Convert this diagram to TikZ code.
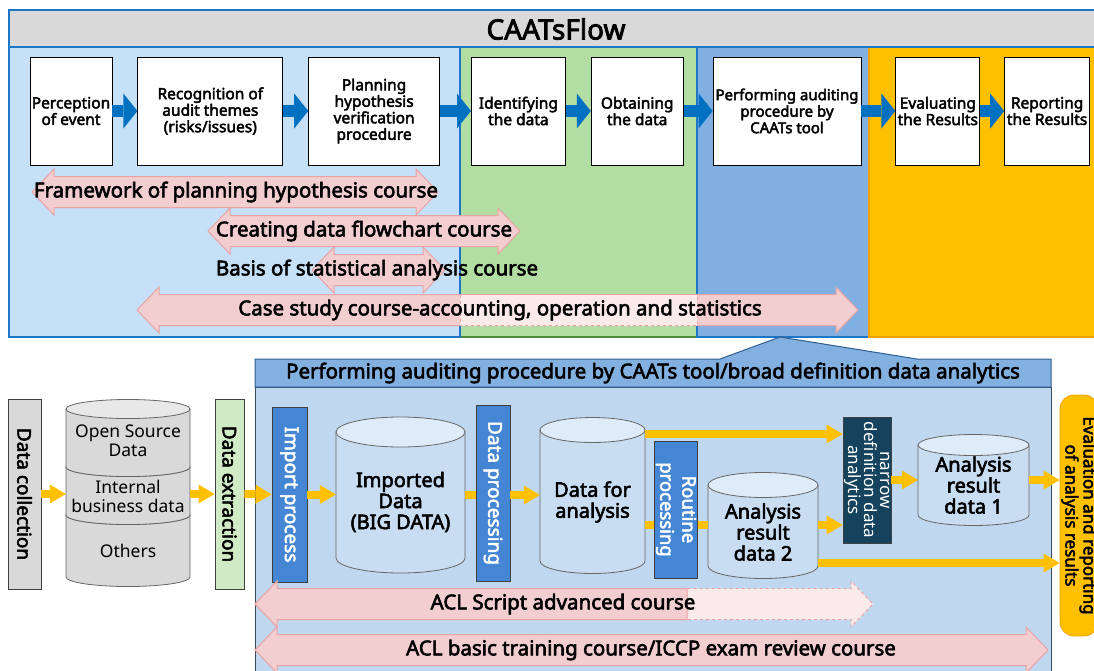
\documentclass[tikz,border=0pt]{standalone}
\usepackage{fontspec}
\setmainfont{Noto Sans}[AutoFakeBold=2.8]
\usetikzlibrary{positioning,arrows.meta}

\definecolor{phaseplan}{HTML}{C6E0F8}
\definecolor{phasegreen}{HTML}{B3DEA3}
\definecolor{phasegreenedge}{HTML}{4E8A3A}
\definecolor{phaseblue}{HTML}{80B0E2}
\definecolor{phaseorange}{HTML}{FFC000}
\definecolor{orangeedge}{HTML}{F5A000}
\definecolor{headgray}{HTML}{D9D9D9}
\definecolor{frameblue}{HTML}{1F75C6}
\definecolor{flowblue}{HTML}{0070C0}
\definecolor{coursepink}{HTML}{F2CED0}
\definecolor{courseedge}{HTML}{E9A3A5}
\definecolor{courselight}{HTML}{FBEAEA}
\definecolor{lowpanel}{HTML}{BFD7EF}
\definecolor{lowedge}{HTML}{3A4A5A}
\definecolor{lowhead}{HTML}{82B0E0}
\definecolor{lowheadedge}{HTML}{2F5F8F}
\definecolor{procblue}{HTML}{4486D4}
\definecolor{narrowteal}{HTML}{15435E}
\definecolor{extractgreen}{HTML}{D0EBC6}
\definecolor{feedyellow}{HTML}{FFC000}
\definecolor{stackbody}{HTML}{D9D9D9}
\definecolor{stacktop}{HTML}{E8E8E8}
\definecolor{databody}{HTML}{C8DCF2}
\definecolor{datatop}{HTML}{DEEBF8}

% block arrow with two heads: [style] left x, right x, mid y
\newcommand{\coursearrow}[4][]{%
  \filldraw[coursebar,#1] (#2,#4) -- ++(22,-23) -- ++(0,7.5) -- ({#3-22},{#4-15.5}) -- ++(0,-7.5)
    -- (#3,#4) -- ++(-22,23) -- ++(0,-7.5) -- ({#2+22},{#4+15.5}) -- ++(0,7.5) -- cycle;}
% cylinder: left x, right x, top y, bottom y, y radius, colour prefix
\newcommand{\drum}[6]{%
  \filldraw[fill=#6body, draw=black!60, line width=0.8pt] (#1,#3) -- (#1,#4)
    arc[start angle=180, end angle=0, x radius={(#2-#1)/2}, y radius=#5] -- (#2,#3) -- cycle;
  \filldraw[fill=#6top, draw=black!60, line width=0.8pt] ({(#1+#2)/2},#3) ellipse[x radius={(#2-#1)/2}, y radius=#5];}

\begin{document}
\begin{tikzpicture}[
  x=1pt, y=-1pt,
  node distance=25pt,
  stepbox/.style={draw, fill=white, line width=0.8pt, minimum height=108pt, align=center, inner sep=0.5pt, font=\fontsize{15.5}{16.5}\selectfont\bfseries},
  coursetext/.style={font=\fontsize{20.5}{22}\selectfont\bfseries},
  coursebar/.style={fill=coursepink, draw=courseedge, line width=1pt},
  sidebox/.style={draw=black!75, line width=0.8pt, rotate=-90, align=center, inner sep=0.5pt, font=\fontsize{19}{21}\selectfont\bfseries},
  procbox/.style={sidebox, fill=procblue, text=white},
  drumtext/.style={align=center, inner sep=0pt, font=\fontsize{20}{21}\selectfont\bfseries},
  stacktext/.style={align=center, inner sep=0pt, font=\fontsize{17.5}{19}\selectfont},
  bluearrow/.style={line width=12pt, draw=flowblue, -{Triangle[width=35pt,length=14pt,line width=0pt]}},
  yline/.style={line width=8pt, draw=feedyellow},
  yarrow/.style={yline, -{Triangle[width=19pt,length=16pt,line width=0pt]}}
]
\useasboundingbox (0,0) rectangle (1094,670);
\fill[white] (0,0) rectangle (1094,670);
\clip (0,0) rectangle (1094,670);

% Phase panels of the flow
\filldraw[fill=phasegreen, draw=phasegreenedge, line width=1.5pt] (460,47) rectangle (697,337);
\filldraw[fill=phaseplan, draw=frameblue, line width=1.5pt] (9,47) rectangle (460,337);
\filldraw[fill=phaseblue, draw=frameblue, line width=1.5pt] (697,47) rectangle (869,337);
\filldraw[fill=phaseorange, draw=orangeedge, line width=1.5pt] (869,47) rectangle (1110,337);
\filldraw[fill=headgray, draw=frameblue, line width=1.5pt] (9,10) rectangle (1110,47);
\node[font=\fontsize{28}{30}\selectfont\bfseries] (title) at (556,29) {CAATsFlow};

% Steps
\node[stepbox, minimum width=82pt] (percept) at (71,111) {Perception\\of event};
\node[stepbox, minimum width=145pt, right=of percept] (recog) {Recognition of\\audit themes\\(risks/issues)};
\node[stepbox, minimum width=131pt, right=of recog] (plan) {Planning\\hypothesis\\verification\\procedure};
\node[stepbox, minimum width=94pt, right=31pt of plan] (ident) {Identifying\\the data};
\node[stepbox, minimum width=92pt, right=of ident] (obtain) {Obtaining\\the data};
\node[stepbox, minimum width=148pt, right=29pt of obtain, font=\fontsize{15}{16.5}\selectfont\bfseries] (perform) {Performing auditing\\procedure by\\CAATs tool};
\node[stepbox, minimum width=84pt, right=34pt of perform] (evalr) {Evaluating\\the Results};
\node[stepbox, minimum width=85pt, right=24pt of evalr] (report) {Reporting\\the Results};

\draw[bluearrow] (percept.east) -- (recog.west);
\draw[bluearrow] (recog.east) -- (plan.west);
\draw[bluearrow] (plan.east) -- (ident.west);
\draw[bluearrow] (ident.east) -- (obtain.west);
\draw[bluearrow] (obtain.east) -- (perform.west);
\draw[bluearrow] (perform.east) -- (evalr.west);
\draw[bluearrow] (evalr.east) -- (report.west);

% Courses (upper)
\coursearrow{32}{438}{192}
\node[coursetext] (fwk) at (236,192) {Framework of planning hypothesis course};
\coursearrow{208}{520}{231}
\node[coursetext] (cflow) at (364,231) {Creating data flowchart course};
\coursearrow{312}{445}{270}
\node[coursetext] (basis) at (377,270) {Basis of statistical analysis course};
\coursearrow{137}{858}{310}
\filldraw[fill=courselight, draw=courseedge, dashed, line width=1pt] (460,294.5) rectangle (697,325.5);
\node[coursetext] (cstudy) at (500,310) {Case study course-accounting, operation and statistics};

% Broad definition panel
\filldraw[fill=lowpanel, draw=lowedge, line width=1pt] (255,387) rectangle (1051,690);
\filldraw[fill=lowhead, draw=lowheadedge, line width=1pt] (255,387) -- (255,359) -- (720,359) -- (780,337)
  -- (917,359) -- (1051,359) -- (1051,387) -- cycle;
\node[font=\fontsize{20.5}{22}\selectfont\bfseries] (perfhead) at (653,373) {Performing auditing procedure by CAATs tool/broad definition data analytics};

% Data sources
\node[sidebox, fill=headgray, minimum width=190pt, minimum height=33pt] (collect) at (24.5,494) {Data collection};
\drum{66}{190}{515}{577}{9.5}{stack}
\drum{66}{190}{467}{515}{9.5}{stack}
\drum{66}{190}{409}{467}{9.5}{stack}
\node[stacktext] (osd) at (128,441) {Open Source\\Data};
\node[stacktext, minimum width=124pt] (ibd) at (128,496) {Internal\\business data};
\node[stacktext] (oth) at (128,551) {Others};
\node[sidebox, fill=extractgreen, minimum width=190pt, minimum height=29pt] (extract) at (229.5,494) {Data extraction};

% Analytics chain
\node[procbox, minimum width=175pt, minimum height=35pt] (importp) at (289.5,494.5) {Import process};
\drum{336}{465}{432}{558}{15}{data}
\node[drumtext, minimum width=129pt] (imported) at (400.5,502) {Imported\\Data\\(BIG DATA)};
\node[procbox, minimum width=176pt, minimum height=34pt] (dproc) at (493,493) {Data processing};
\drum{540}{645}{430}{561}{12.5}{data}
\node[drumtext, minimum width=105pt] (dfa) at (592.5,502) {Data for\\analysis};
\drum{708}{818}{485}{566}{12.5}{data}
\node[drumtext, minimum width=110pt] (ares2) at (763,532) {Analysis\\result\\data 2};
\node[procbox, minimum width=137pt, minimum height=43pt, font=\fontsize{18.5}{22}\selectfont\bfseries] (routine) at (676,509.5) {Routine\\processing};
\node[sidebox, fill=narrowteal, text=white, minimum width=126pt, minimum height=48pt, font=\fontsize{17}{16}\selectfont] (nda) at (867,480) {narrow\\definition data\\analytics};
\drum{918}{1029}{445}{515}{10.5}{data}
\node[drumtext, minimum width=111pt] (ares1) at (973.5,485) {Analysis\\result\\data 1};
\node[sidebox, fill=phaseorange, draw=orangeedge, rounded corners=14pt, minimum width=241pt, minimum height=38pt, font=\fontsize{17}{17}\selectfont\bfseries] (evalrep) at (1079,515.5) {Evaluation and reporting\\of analysis results};

\coordinate (rowA) at (0,434);
\coordinate (rowB) at (0,525);
\coordinate (rowC) at (0,480);
\coordinate (rowD) at (0,563);

\draw[yarrow] (collect.north) -- (collect.north -| ibd.west);
\draw[yarrow] (collect.north -| ibd.east) -- (extract.south);
\draw[yarrow] (extract.north) -- (importp.south);
\draw[yarrow] (importp.north) -- (importp.north -| imported.west);
\draw[yline] ([yshift=-2pt]dproc.south -| imported.east) -- ([yshift=-2pt]dproc.south);
\draw[yarrow] ([yshift=-2pt]dproc.north) -- ([yshift=-2pt]dproc.north -| dfa.west);
\draw[yarrow] (dfa.east |- rowA) -- (nda.south |- rowA);
\draw[yline] (dfa.east |- rowB) -- (routine.south |- rowB);
\draw[yline] (routine.north |- rowB) -- (ares2.west |- rowB);
\draw[yarrow] (ares2.east |- rowB) -- (nda.south |- rowB);
\draw[yarrow] (nda.north |- rowC) -- (ares1.west |- rowC);
\draw[yarrow] (ares1.east |- rowC) -- (evalrep.south |- rowC);
\draw[yarrow] (ares2.east |- rowD) -- (evalrep.south |- rowD);

% Courses (lower)
\coursearrow[fill=courselight, dashed]{255}{873}{604}
\filldraw[coursebar] (255,604) -- (277,581) -- (277,588.5) -- (687,588.5) -- (687,619.5) -- (277,619.5) -- (277,627) -- cycle;
\node[coursetext] (aclscript) at (563,604) {ACL Script advanced course};
\coursearrow{255}{1048}{650}
\node[coursetext] (aclbasic) at (651,650) {ACL basic training course/ICCP exam review course};
\end{tikzpicture}
\end{document}
